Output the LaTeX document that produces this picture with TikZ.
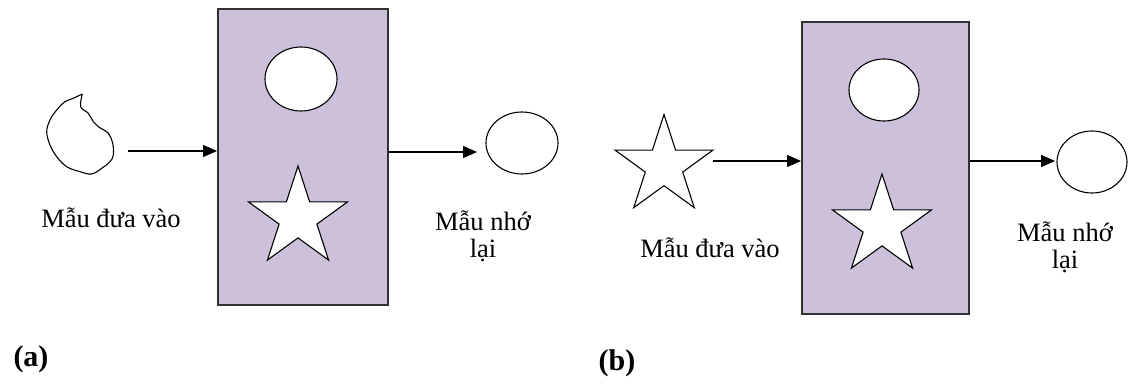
\documentclass[tikz,border=0pt]{standalone}
\usepackage{fontspec}
\setmainfont{Liberation Serif}
\usetikzlibrary{shapes.geometric,arrows.meta}
\definecolor{lav}{RGB}{204,192,218}
\definecolor{edge}{RGB}{50,50,50}
\begin{document}
\begin{tikzpicture}[x=1pt,y=-1pt,
  panel/.style={draw=edge,line width=1.6pt,fill=lav,inner sep=0pt,anchor=north west},
  ring/.style={ellipse,draw,line width=1.1pt,fill=white,inner sep=0pt},
  starshape/.style={star,star points=5,star point ratio=2.618,draw,line width=1.1pt,fill=white,inner sep=0pt,minimum size=#1},
  arr/.style={line width=1.4pt,-{Triangle[length=14pt,width=12pt]}},
  lbl/.style={font=\fontsize{26.5}{28}\selectfont,align=center,anchor=base,inner sep=0pt},
  tag/.style={font=\fontsize{30}{34}\selectfont\bfseries,anchor=base,inner sep=0pt}]
\useasboundingbox (0,0) rectangle (1128,385);

% ---------- panel (a) ----------
% irregular input pattern
\draw[line width=1.1pt] plot[smooth,tension=0.6] coordinates {
  (82.3,94) (80.7,106.7) (88.3,113.3) (93.3,121.7) (98.3,126.7) (108.3,133.3)
  (112.7,143.3) (113.3,155) (110,161.7) (101.7,168.3) (91.7,174) (80,171.7)
  (66.7,166.7) (56.7,156.7) (50,145) (46.7,131.7) (50,120) (56.7,110)
  (65,101.7) (73.3,98.3) (82.3,94)};
\coordinate (ina) at (128,151);
\node[lbl] (lblina) at (111,227) {Mẫu đưa vào};

\node[panel,minimum width=170pt,minimum height=296pt] (boxa) at (217,8) {};
\node[ring,minimum width=72pt,minimum height=64pt] (ella) at (301,79) {};
\node[starshape=104pt] (stara) at (298,218) {};

\coordinate (tipa) at (477,152);
\node[ring,minimum width=72pt,minimum height=62pt] (outa) at (522,143) {};
% the base anchor of a two-line node sits on its last line
\node[lbl] (lblouta) at (483,258) {Mẫu nhớ\\lại};

\draw[arr] (ina) -- (ina -| boxa.west);
\draw[arr] (boxa.east |- tipa) -- (tipa);

\node[tag] (taga) at (31,366) {(a)};

% ---------- panel (b) ----------
\node[starshape=103pt] (inb) at (664,166) {};
\node[lbl] (lblinb) at (710,257) {Mẫu đưa vào};

\node[panel,minimum width=167pt,minimum height=292pt] (boxb) at (801,21) {};
\node[ring,minimum width=70pt,minimum height=62pt] (ellb) at (884,90) {};
\node[starshape=104pt] (starb) at (882,226) {};

\coordinate (srcb) at (713,161);
\coordinate (tipb) at (1055,161);
\node[ring,minimum width=70pt,minimum height=62pt] (outb) at (1092,162) {};
\node[lbl] (lbloutb) at (1065,269) {Mẫu nhớ\\lại};

\draw[arr] (srcb) -- (srcb -| boxb.west);
\draw[arr] (boxb.east |- tipb) -- (tipb);

\node[tag] (tagb) at (617,370) {(b)};
\end{tikzpicture}
\end{document}
